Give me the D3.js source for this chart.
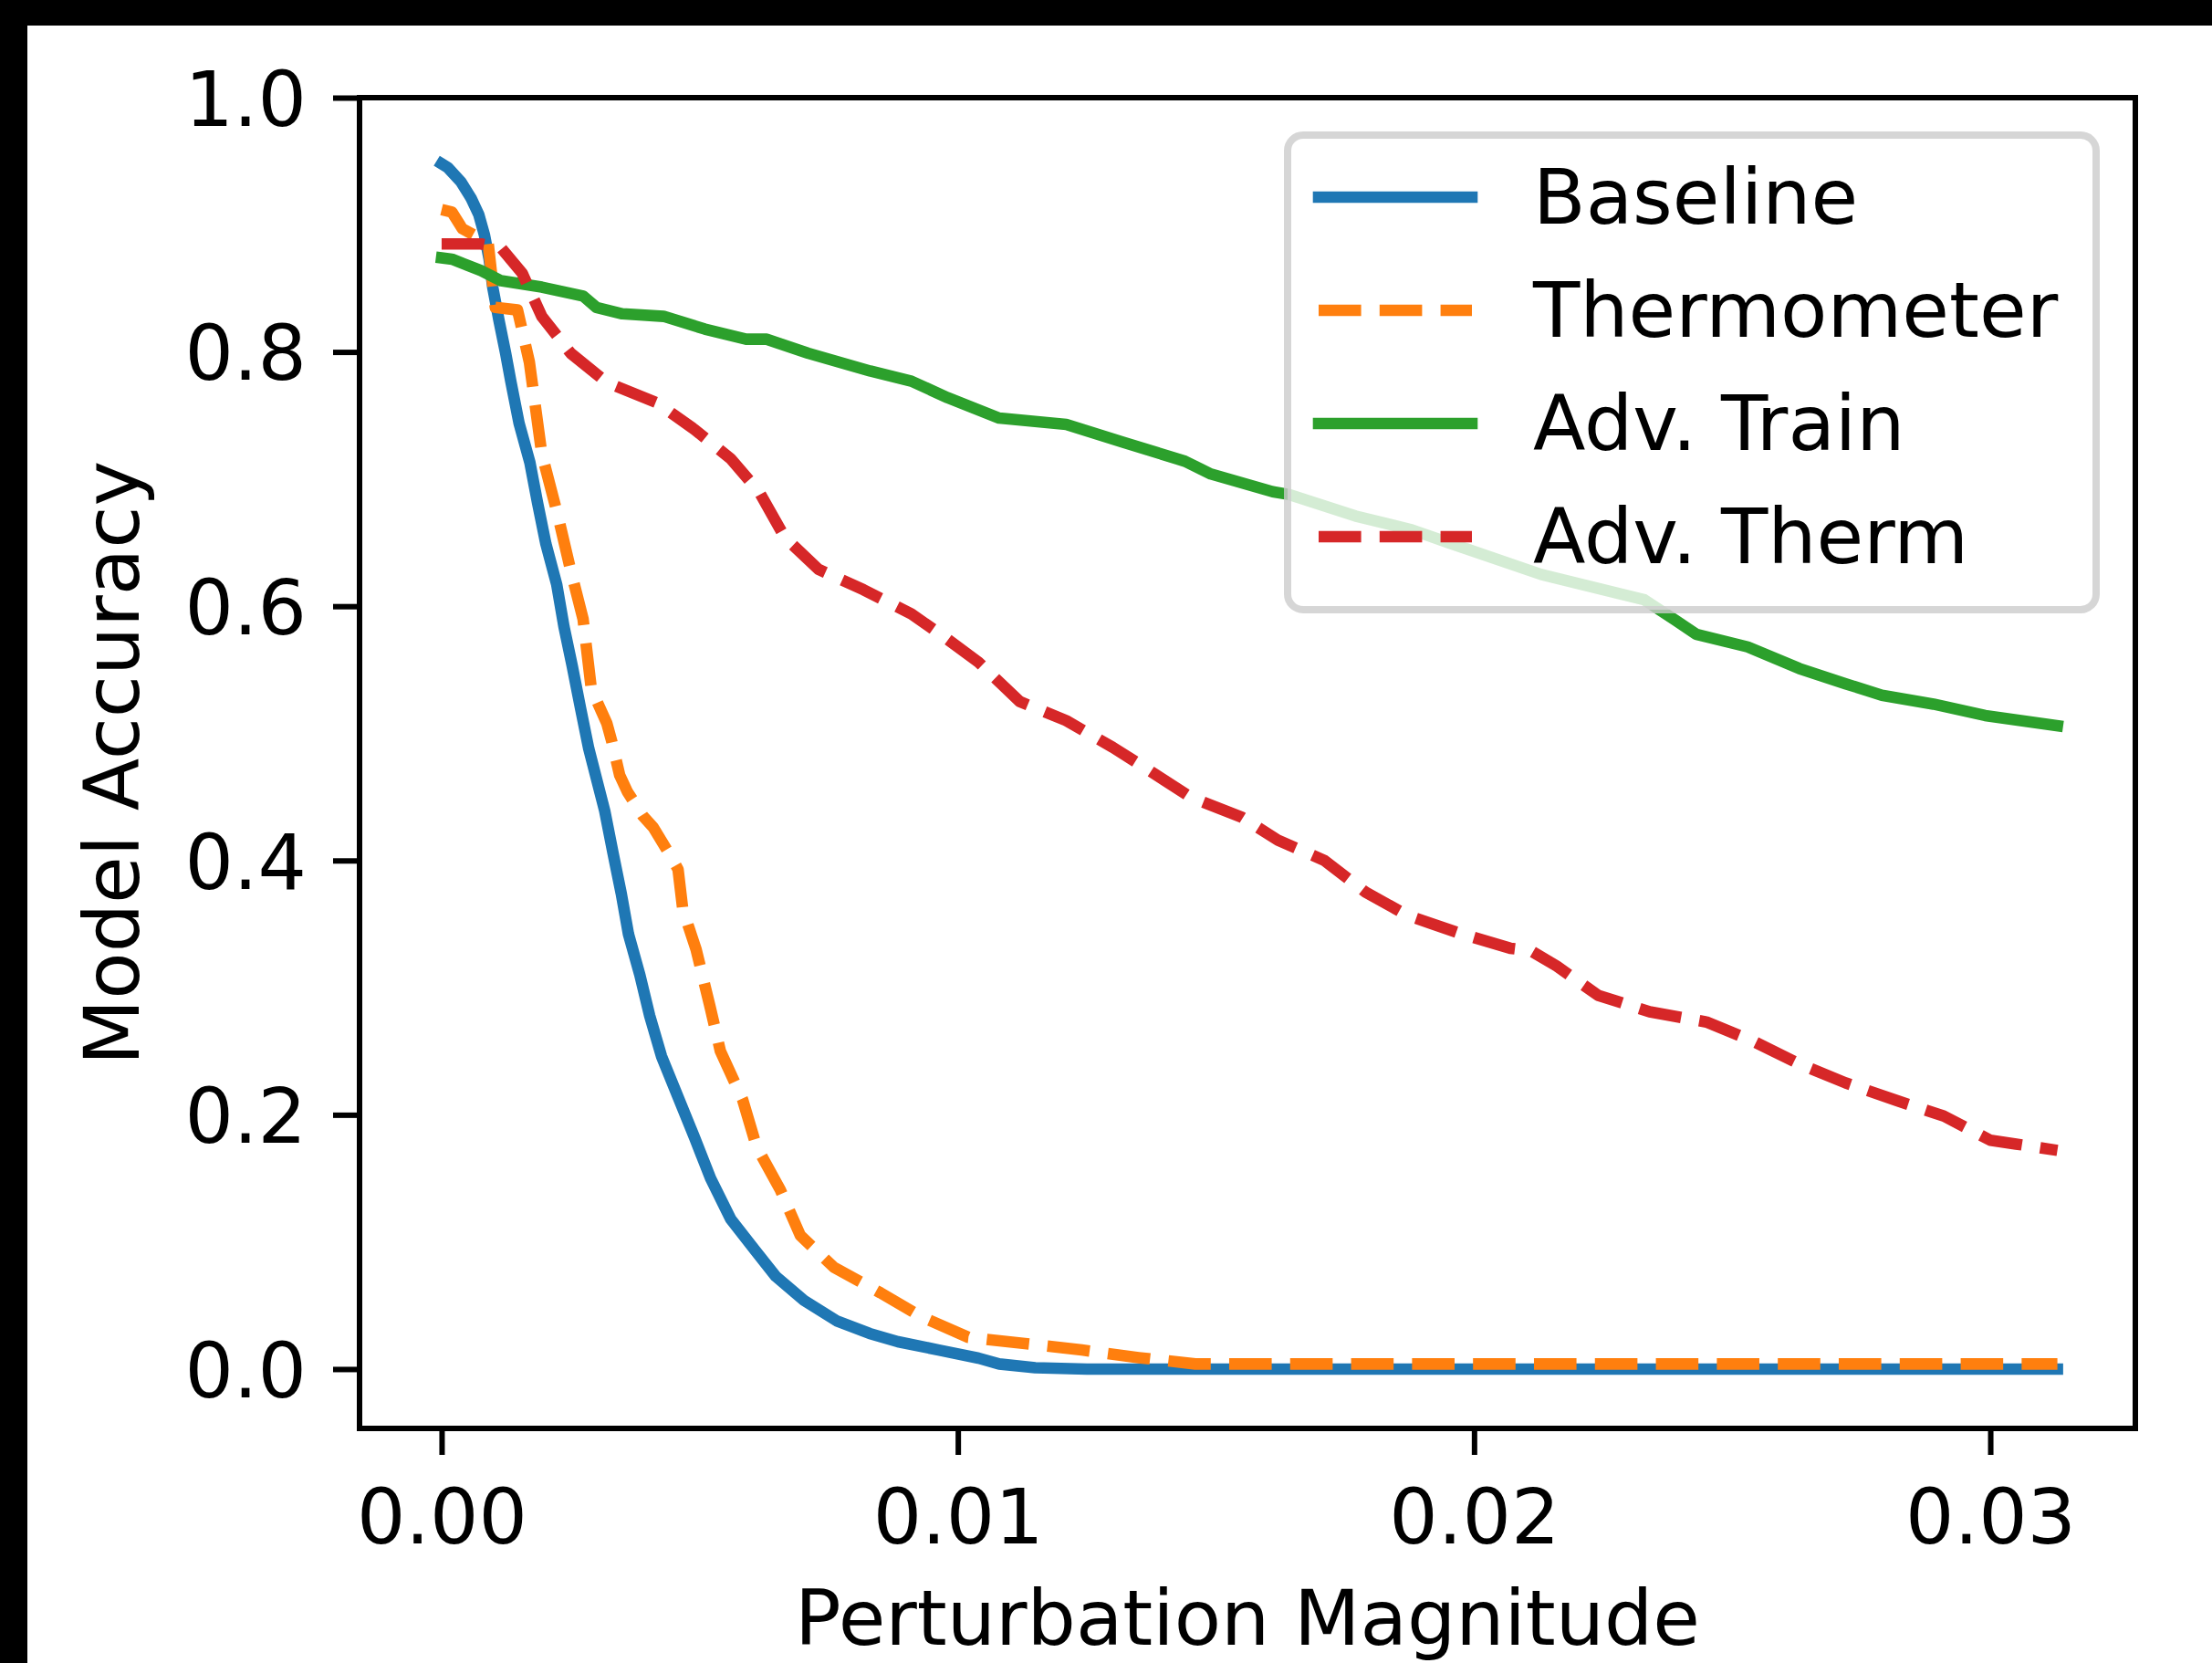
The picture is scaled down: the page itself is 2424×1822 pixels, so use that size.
<!DOCTYPE html>
<html>
<head>
<meta charset="utf-8">
<script src="https://cdn.jsdelivr.net/npm/d3@7"></script>
<style>
  html, body { margin: 0; padding: 0; background: #000; }
  svg { display: block; }
  text { font-family: "DejaVu Sans", sans-serif; fill: #000; }
</style>
</head>
<body>
<div id="chart"></div>
<script>
/*
 * Model accuracy vs. perturbation magnitude for four defences.
 * Values.
 */

// tick values
var xTicks = [0.00, 0.01, 0.02, 0.03],
  yTicks = [0.0, 0.2, 0.4, 0.6, 0.8, 1.0];

var seriesNames = ["Baseline", "Thermometer", "Adv. Train", "Adv. Therm"];

// Baseline
var baselineX = [0, 0.00012, 0.00037, 0.00057, 0.00072, 0.00083, 0.00092, 0.00099, 0.00111, 0.00124,
  0.00134, 0.0015, 0.00171, 0.00186, 0.00202, 0.00223, 0.00237, 0.00253, 0.00269, 0.00285,
  0.00316, 0.00332, 0.00348, 0.00362, 0.00384, 0.00403, 0.00426, 0.00458, 0.0049, 0.00521,
  0.0056, 0.00608, 0.00647, 0.00702, 0.00765, 0.00829, 0.00884, 0.00963, 0.0104, 0.0108,
  0.0115, 0.0125, 0.0313];
var baselineY = [0.948, 0.945, 0.934, 0.921, 0.908, 0.892, 0.873, 0.851, 0.825, 0.799,
  0.777, 0.744, 0.713, 0.681, 0.649, 0.617, 0.584, 0.553, 0.520, 0.488,
  0.439, 0.406, 0.374, 0.342, 0.310, 0.278, 0.246, 0.214, 0.182, 0.150,
  0.118, 0.093, 0.073, 0.054, 0.038, 0.028, 0.0215, 0.015, 0.0086, 0.004,
  0.001, 0.0, 0.0];

// Thermometer
var thermX = [0, 0.0002, 0.0004, 0.0009, 0.00104, 0.00147, 0.0017, 0.00194, 0.00226, 0.00249,
  0.00274, 0.0029, 0.0032, 0.0033, 0.00345, 0.0036, 0.0039, 0.0041, 0.0044, 0.00458,
  0.00467, 0.00493, 0.0052, 0.0054, 0.00583, 0.0061, 0.00656, 0.00695, 0.0076, 0.0085,
  0.0093, 0.0102, 0.0113, 0.0124, 0.0135, 0.0146, 0.0313];
var thermY = [0.912, 0.91, 0.897, 0.886, 0.835, 0.833, 0.792, 0.72, 0.67, 0.63,
  0.59, 0.535, 0.508, 0.493, 0.467, 0.454, 0.435, 0.426, 0.406, 0.393,
  0.362, 0.33, 0.285, 0.25, 0.212, 0.175, 0.141, 0.105, 0.08, 0.06,
  0.041, 0.025, 0.02, 0.015, 0.009, 0.004, 0.004];

// Adv. Train
var advTrainX = [0, 0.0002, 0.00076, 0.00115, 0.00194, 0.00274, 0.003, 0.0035, 0.0043, 0.0051,
  0.0059, 0.0063, 0.0071, 0.0083, 0.0091, 0.0098, 0.0108, 0.0121, 0.0132, 0.0144,
  0.0149, 0.0161, 0.0164, 0.0177, 0.0188, 0.0195, 0.0213, 0.0233, 0.0239, 0.0243,
  0.0253, 0.0263, 0.0272, 0.0279, 0.0289, 0.0299, 0.0313];
var advTrainY = [0.874, 0.873, 0.864, 0.856, 0.851, 0.844, 0.835, 0.83, 0.828, 0.818,
  0.81, 0.81, 0.799, 0.785, 0.777, 0.764, 0.748, 0.743, 0.729, 0.714,
  0.704, 0.69, 0.688, 0.671, 0.66, 0.65, 0.625, 0.605, 0.589, 0.578,
  0.568, 0.551, 0.539, 0.530, 0.523, 0.514, 0.506];

// Adv. Therm
var advThermX = [0, 0.00076, 0.00115, 0.00156, 0.00194, 0.0025, 0.0032, 0.00417, 0.0049, 0.0056,
  0.00615, 0.00665, 0.0073, 0.00817, 0.0091, 0.0098, 0.0104, 0.0112, 0.0121, 0.013,
  0.0137, 0.0145, 0.0155, 0.0162, 0.0171, 0.0179, 0.0187, 0.0197, 0.0207, 0.0211,
  0.0216, 0.0224, 0.0234, 0.0245, 0.0254, 0.0263, 0.0272, 0.0282, 0.0291, 0.03,
  0.0305, 0.0313];
var advThermY = [0.885, 0.885, 0.882, 0.862, 0.828, 0.799, 0.776, 0.760, 0.739, 0.716,
  0.690, 0.654, 0.629, 0.613, 0.594, 0.574, 0.556, 0.525, 0.51, 0.489,
  0.471, 0.45, 0.434, 0.416, 0.40, 0.375, 0.357, 0.343, 0.331, 0.329,
  0.317, 0.294, 0.281, 0.273, 0.258, 0.24, 0.225, 0.211, 0.199, 0.18,
  0.177, 0.172];

var colors = ["#1f77b4", "#ff7f0e", "#2ca02c", "#d62728"],
  dashed = [false, true, false, true];

(function () {
  "use strict";

  var width = 2424,
    height = 1822,
    fontSize = 84,
    lineWidth = 12.6,
    dash = "46.6,20.2",
    plot = {left: 394, right: 2340, top: 107, bottom: 1565},
    svg, x, y, line, series, legend;

  svg = d3.select("#chart").append("svg")
    .attr("width", width)
    .attr("height", height);

  // White figure on the black page.
  svg.append("rect")
    .attr("x", 30).attr("y", 28)
    .attr("width", width - 30).attr("height", height - 28)
    .attr("fill", "#fff");

  x = d3.scaleLinear().domain([-0.00159, 0.03281]).range([plot.left, plot.right]);
  y = d3.scaleLinear().domain([-0.0467, 1.0]).range([plot.bottom, plot.top]);

  // Zip x/y arrays into point lists.
  function zip(xs, ys) {
    return xs.map(function (d, i) {
      return [d, ys[i]];
    });
  }

  series = [
    zip(baselineX, baselineY),
    zip(thermX, thermY),
    zip(advTrainX, advTrainY),
    zip(advThermX, advThermY)
  ];

  line = d3.line()
    .x(function (d) { return x(d[0]); })
    .y(function (d) { return y(d[1]); });

  svg.append("g").selectAll("path")
    .data(series)
    .enter().append("path")
    .attr("d", line)
    .attr("fill", "none")
    .attr("stroke", (d, i) => colors[i])
    .attr("stroke-width", lineWidth)
    .attr("stroke-linejoin", "round")
    .attr("stroke-linecap", (d, i) => dashed[i] ? "butt" : "square")
    .attr("stroke-dasharray", (d, i) => dashed[i] ? dash : null);

  // Axes, the spines are drawn as one frame below.
  function styleAxis(g) {
    g.select(".domain").remove();
    g.selectAll(".tick line").attr("stroke", "#000").attr("stroke-width", 6);
    g.selectAll(".tick text")
      .attr("fill", "#000")
      .style("font-size", fontSize + "px")
      .style("font-family", "'DejaVu Sans', sans-serif");
  }

  svg.append("g")
    .attr("transform", "translate(0," + plot.bottom + ")")
    .call(d3.axisBottom(x).tickValues(xTicks).tickFormat(d3.format(".2f"))
      .tickSize(29).tickPadding(29))
    .call(styleAxis)
    .selectAll(".tick text").attr("dy", "0.81em");

  svg.append("g")
    .attr("transform", "translate(" + plot.left + ",0)")
    .call(d3.axisLeft(y).tickValues(yTicks).tickFormat(d3.format(".1f"))
      .tickSize(29).tickPadding(29))
    .call(styleAxis)
    .selectAll(".tick text").attr("dy", "0.36em");

  svg.append("rect")
    .attr("x", plot.left).attr("y", plot.top)
    .attr("width", plot.right - plot.left)
    .attr("height", plot.bottom - plot.top)
    .attr("fill", "none")
    .attr("stroke", "#000")
    .attr("stroke-width", 6);

  // Axis labels.
  svg.append("text")
    .attr("x", (plot.left + plot.right) / 2)
    .attr("y", 1802)
    .attr("text-anchor", "middle")
    .style("font-size", fontSize + "px")
    .text("Perturbation Magnitude");

  svg.append("text")
    .attr("transform", "translate(152," + ((plot.top + plot.bottom) / 2) + ") rotate(-90)")
    .attr("text-anchor", "middle")
    .style("font-size", fontSize + "px")
    .text("Model Accuracy");

  // Legend, upper right, semi transparent like matplotlib.
  legend = svg.append("g").attr("class", "legend");

  legend.append("rect")
    .attr("x", 1411).attr("y", 148)
    .attr("width", 886).attr("height", 520)
    .attr("rx", 17).attr("ry", 17)
    .attr("fill", "#fff").attr("fill-opacity", 0.8)
    .attr("stroke", "#cccccc").attr("stroke-opacity", 0.8)
    .attr("stroke-width", 8);

  var keys = legend.selectAll(".key")
    .data(seriesNames)
    .enter().append("g")
    .attr("class", "key")
    .attr("transform", (d, i) => "translate(0," + (216 + i * 124) + ")");

  keys.append("line")
    .attr("x1", 1445).attr("x2", 1613)
    .attr("y1", 0).attr("y2", 0)
    .attr("stroke", (d, i) => colors[i])
    .attr("stroke-width", lineWidth)
    .attr("stroke-linecap", (d, i) => dashed[i] ? "butt" : "square")
    .attr("stroke-dasharray", (d, i) => dashed[i] ? dash : null);

  keys.append("text")
    .attr("x", 1680).attr("y", 29)
    .style("font-size", fontSize + "px")
    .text(d => d);
})();
</script>
</body>
</html>
